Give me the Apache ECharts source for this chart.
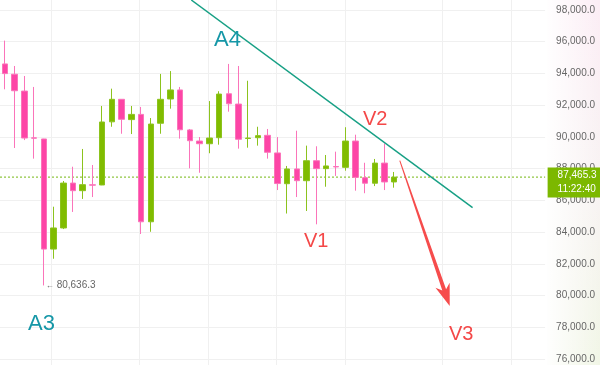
<!DOCTYPE html>
<html><head><meta charset="utf-8">
<script src="https://cdn.jsdelivr.net/npm/echarts@6/dist/echarts.min.js"></script>
<style>html,body{margin:0;padding:0;background:#fff}#c{width:600px;height:365px}</style>
</head><body><div id="c"></div>
<script>
// slot labels for the category axis (41 candles + empty space to the right)
const categories = Array.from({length: 56}, (_, i) => 'K' + (i + 1));
// [open, close, low, high]
const candles = [
  [94600, 93990, 93000, 96070],
  [93950, 92910, 89300, 94470],
  [92890, 89930, 89800, 93840],
  [89940, 89920, 88630, 93150],
  [89870, 82930, 80636.3, 89880],
  [82930, 84260, 82320, 85600],
  [84260, 87090, 84190, 87220],
  [87090, 86610, 85270, 88120],
  [86610, 86990, 86090, 89240],
  [86980, 86960, 86210, 88230],
  [86970, 90940, 86960, 91950],
  [90950, 92370, 90640, 93040],
  [92370, 91110, 90200, 92380],
  [91090, 91420, 90180, 91950],
  [91420, 84650, 83880, 91890],
  [84650, 90810, 84020, 91190],
  [90860, 92370, 90200, 93970],
  [92390, 92960, 91780, 94150],
  [92960, 90450, 89890, 93150],
  [90440, 89760, 88020, 90500],
  [89740, 89570, 87740, 89990],
  [89570, 89930, 88970, 92260],
  [89950, 92700, 89510, 92880],
  [92720, 92090, 91590, 94600],
  [92070, 89850, 89260, 94470],
  [89900, 89930, 89320, 93540],
  [89950, 90080, 89450, 90640],
  [90100, 89030, 88630, 90500],
  [88990, 87060, 86650, 89990],
  [87050, 87980, 85170, 88170],
  [87980, 87240, 86210, 90390],
  [87240, 88500, 85330, 89450],
  [88500, 88000, 84490, 89410],
  [88000, 88170, 86860, 88860],
  [88130, 88110, 87540, 89070],
  [88080, 89740, 87870, 90610],
  [89740, 87450, 86610, 90140],
  [87430, 87080, 86450, 88370],
  [87080, 88350, 86900, 88610],
  [88350, 87160, 86650, 89580],
  [87160, 87465.3, 86800, 87790]
];
const lastPrice = 87465.3;
const lastTime = '11:22:40';
const lowPrice = 80636.3;
const lowIndex = 4;
const yMin = 76000, yMax = 98000, yStep = 2000;
const vGridIndices = [5, 14, 21, 28, 35, 45, 52];
// trend line and arrow in (slot index, price) coordinates
const trendLine = [[19.15, 98630], [48.05, 85538]];
const arrowLine = [[40.57, 88500, 45.7, 79341]];
const priceLine = [[-0.5, lastPrice], [55.5, lastPrice]];
const labelsA = ['A4', 'A3'];
const labelsV = ['V1', 'V2', 'V3'];

const fmt = v => v.toLocaleString('en-US', {minimumFractionDigits: 1, maximumFractionDigits: 1});

const chart = echarts.init(document.getElementById('c'), null, {renderer: 'canvas'});
const W = 9.77;
const gridW = 56 * W;
const option = {
  animation: false,
  backgroundColor: '#fff',
  grid: [
    {left: -2, width: gridW, top: 10, bottom: 6},
    {left: -2 + W / 2, width: 55 * W, top: 0, bottom: 0}
  ],
  xAxis: [
    {gridIndex: 0, type: 'category', data: categories, boundaryGap: true, show: false},
    {gridIndex: 1, type: 'category', data: categories, boundaryGap: false,
     axisLine: {show: false}, axisTick: {show: false}, axisLabel: {show: false},
     splitLine: {show: true, interval: (i) => vGridIndices.includes(i), lineStyle: {color: '#f0f0f0', width: 1}}},
    {gridIndex: 0, type: 'value', min: -0.5, max: 55.5, show: false}
  ],
  yAxis: [
    {gridIndex: 0, type: 'value', position: 'right', min: yMin, max: yMax, interval: yStep,
     axisLine: {show: false}, axisTick: {show: false},
     axisLabel: {margin: 11, align: 'left', color: '#666', fontSize: 10, fontFamily: 'Liberation Sans', formatter: v => fmt(v)},
     splitLine: {lineStyle: {color: '#f0f0f0', width: 1}}},
    {gridIndex: 1, type: 'value', min: 0, max: 1, show: false}
  ],
  graphic: [
    {type: 'rect', z: -10, shape: {x: 547, y: 0, width: 53, height: 365},
     style: {fill: new echarts.graphic.LinearGradient(0, 0, 0, 1, [
       {offset: 0, color: '#fcedf5'}, {offset: 0.5, color: '#f8f3f3'}, {offset: 1, color: '#f1f6e6'}])}},
    {type: 'rect', z: -9, shape: {x: 547, y: 0, width: 53, height: 365},
     style: {fill: new echarts.graphic.LinearGradient(0, 0, 1, 0, [
       {offset: 0, color: 'rgba(255,255,255,0.95)'}, {offset: 1, color: 'rgba(255,255,255,0)'}])}},
    {type: 'text', z: 20, x: 214, y: 40, style: {text: labelsA[0], fill: '#1597a7', fontSize: 22, fontFamily: 'Liberation Sans', verticalAlign: 'middle'}},
    {type: 'text', z: 20, x: 28, y: 324, style: {text: labelsA[1], fill: '#1597a7', fontSize: 22, fontFamily: 'Liberation Sans', verticalAlign: 'middle'}},
    {type: 'text', z: 20, x: 304, y: 241, style: {text: labelsV[0], fill: '#f44848', fontSize: 20, fontFamily: 'Liberation Sans', verticalAlign: 'middle'}},
    {type: 'text', z: 20, x: 363, y: 119, style: {text: labelsV[1], fill: '#f44848', fontSize: 20, fontFamily: 'Liberation Sans', verticalAlign: 'middle'}},
    {type: 'text', z: 20, x: 449, y: 334, style: {text: labelsV[2], fill: '#f44848', fontSize: 20, fontFamily: 'Liberation Sans', verticalAlign: 'middle'}}
  ],
  series: [
    {type: 'line', xAxisIndex: 2, yAxisIndex: 0, data: priceLine, symbol: 'none', silent: true, z: 1,
     lineStyle: {type: [2, 2], color: '#8cc43a', width: 1.2}},
    {type: 'candlestick', xAxisIndex: 0, yAxisIndex: 0, data: candles, barWidth: 6, z: 2,
     itemStyle: {color: '#80bc00', color0: '#fd45a6', borderColor: '#8cc31e', borderColor0: '#fb74ba', borderWidth: 1},
     markLine: {silent: true, symbol: ['none', 'none'], z: 10,
       lineStyle: {color: 'rgba(255,255,255,0)', width: 0.1},
       label: {show: true, position: 'end', distance: 2.5, offset: [0, 5.5],
         formatter: () => fmt(lastPrice) + '\n' + lastTime,
         backgroundColor: '#7cb800', color: '#fff', fontSize: 10, fontFamily: 'Liberation Sans',
         lineHeight: 14, padding: [1, 10, 1, 10]},
       data: [{yAxis: lastPrice}]},
     markPoint: {silent: true, symbol: 'circle', symbolSize: 0.1, itemStyle: {color: 'rgba(0,0,0,0)'},
       label: {show: true, position: 'right', distance: 2, color: '#666', fontSize: 10, fontFamily: 'Liberation Sans',
         formatter: () => '{a|←} ' + fmt(lowPrice), rich: {a: {fontSize: 8, color: '#555'}}},
       data: [{coord: [lowIndex, lowPrice]}]}
    },
    {type: 'line', xAxisIndex: 2, yAxisIndex: 0, data: trendLine, symbol: 'none', clip: false, silent: true, z: 5,
     lineStyle: {color: '#17a085', width: 1.5}},
    {type: 'custom', xAxisIndex: 2, yAxisIndex: 0, data: arrowLine, clip: false, silent: true, z: 6,
     encode: {x: [0, 2], y: [1, 3]},
     renderItem: (params, api) => {
       const p0 = api.coord([api.value(0), api.value(1)]);
       const p1 = api.coord([api.value(2), api.value(3)]);
       const dx = p1[0] - p0[0], dy = p1[1] - p0[1];
       const len = Math.sqrt(dx * dx + dy * dy);
       const d = [dx / len, dy / len], n = [-d[1], d[0]];
       const at = (t, w) => [p0[0] + d[0] * t + n[0] * w, p0[1] + d[1] * t + n[1] * w];
       const pts = [at(0, 0.5), at(len - 17, 2), at(len - 22, 7.5), p1, at(len - 22, -7.5), at(len - 17, -2), at(0, -0.5)];
       return {type: 'polygon', shape: {points: pts}, style: {fill: '#f64c4c'}};
     }}
  ]
};
chart.setOption(option);
</script></body></html>
